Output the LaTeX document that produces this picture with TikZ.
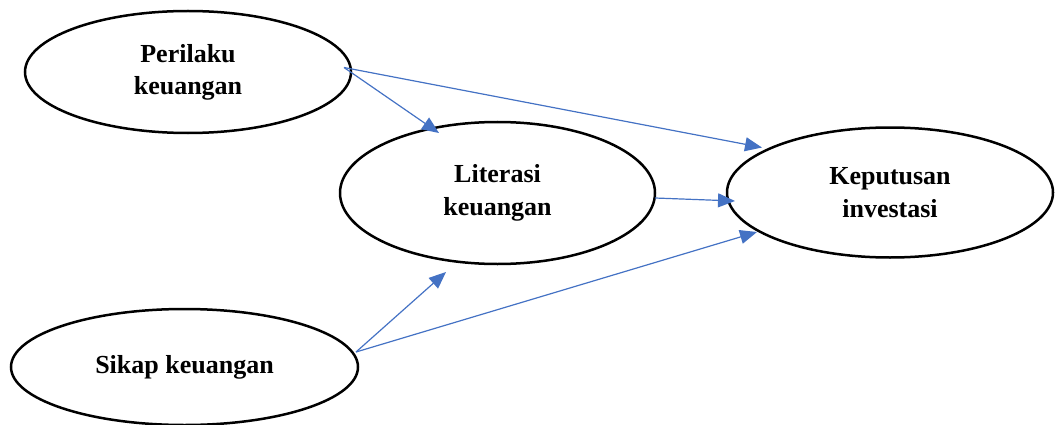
\documentclass[tikz,border=0pt]{standalone}
\usepackage{fontspec}
\setmainfont{Liberation Serif}
\usetikzlibrary{shapes.geometric,arrows.meta}
\definecolor{arrowblue}{HTML}{4472C4}
\begin{document}
\begin{tikzpicture}[x=1pt,y=-1pt,
  var/.style={ellipse,draw=black,line width=2.5pt,inner sep=0pt,align=center,
    font=\fontsize{26}{33}\selectfont\bfseries},
  link/.style={draw=arrowblue,line width=1.2pt,-{Triangle[length=17pt,width=14pt]}}]
\useasboundingbox (0,0) rectangle (1059,425);
\node[var,minimum width=326pt,minimum height=122pt] (per) at (188,72) {\raisebox{-4pt}{\begin{tabular}{@{}c@{}}Perilaku\\[-1pt]keuangan\end{tabular}}};
\node[var,minimum width=315pt,minimum height=142pt] (lit) at (497.5,193) {Literasi\\keuangan};
\node[var,minimum width=326pt,minimum height=130pt] (kep) at (890,192.5) {Keputusan\\investasi};
\node[var,minimum width=347pt,minimum height=116pt] (sik) at (184.5,367) {\raisebox{3pt}{Sikap keuangan}};
\coordinate (perS) at (344,67.5);
\coordinate (sikS) at (356,352);
\coordinate (litT1) at (439,133);
\coordinate (litT2) at (446,272);
\coordinate (kepT1) at (762,147.5);
\coordinate (kepT2) at (735,201);
\coordinate (kepT3) at (757,232);
\coordinate (litS) at (655,198);
\draw[link] (perS) -- (litT1);
\draw[link] (perS) -- (kepT1);
\draw[link] (litS) -- (kepT2);
\draw[link] (sikS) -- (litT2);
\draw[link] (sikS) -- (kepT3);
\end{tikzpicture}
\end{document}
